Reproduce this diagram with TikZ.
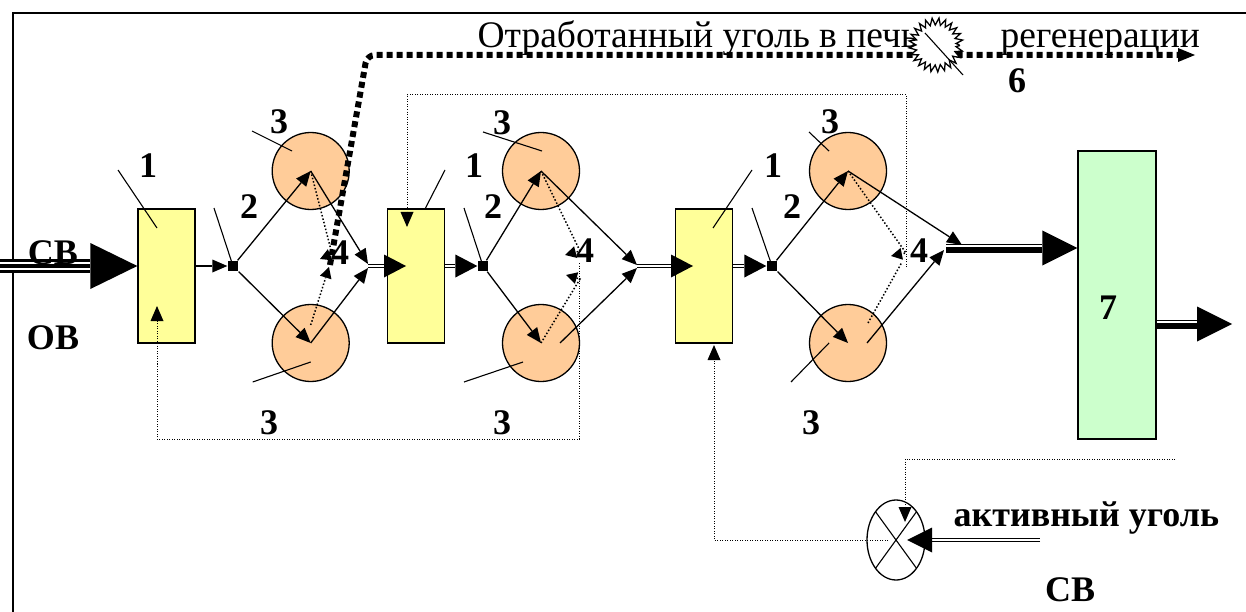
\documentclass[tikz,border=0pt]{standalone}
\usepackage{fontspec}
\setmainfont{Liberation Serif}
\usetikzlibrary{arrows.meta,calc,shapes.geometric,decorations.pathmorphing}
\definecolor{mixfill}{RGB}{255,255,153}
\definecolor{reacfill}{RGB}{255,204,153}
\definecolor{sepfill}{RGB}{204,255,204}
\tikzset{
  every picture/.style={line width=1.3pt},
  tag/.style={font=\fontsize{36}{40}\selectfont\bfseries, inner sep=0pt},
  title/.style={font=\fontsize{37.5}{40}\selectfont, inner sep=0pt, anchor=base west},
  mixer/.style={draw, fill=mixfill, minimum width=57pt, minimum height=134pt, inner sep=0pt},
  reactor/.style={draw, circle, fill=reacfill, minimum size=77pt, inner sep=0pt},
  sepbox/.style={draw, fill=sepfill, minimum width=78pt, minimum height=288pt, inner sep=0pt},
  splitter/.style={fill=black, minimum size=10pt, inner sep=0pt},
  valvebox/.style={draw, ellipse, fill=white, minimum width=58pt, minimum height=80pt, inner sep=0pt},
  furnace/.style={draw, fill=white, circle, minimum size=47pt, inner sep=0pt, decorate, decoration={zigzag, segment length=6pt, amplitude=3.5pt}},
  leader/.style={line width=1.1pt},
  flow/.style={-{Triangle[length=15pt,width=13pt,line width=0pt]}, line width=1.3pt},
  dflow/.style={-{Triangle[length=22pt,width=23pt,line width=0pt]}, double, double distance=1.5pt, line width=1.3pt},
  heavy/.style={-{Triangle[length=35pt,width=35pt,line width=0pt]}, line width=9pt, postaction={draw=white, -, line width=1.5pt, shorten >=35pt, transform canvas={yshift=2pt}}},
  trip/.style={-{Triangle[length=47pt,width=46pt,line width=0pt]}, line width=14pt, postaction={draw=white, -, line width=8pt, shorten >=47pt}, postaction={draw=black, -, line width=4pt, shorten >=47pt}},
  recyc/.style={line width=1pt, dash pattern=on 1pt off 1.5pt},
  recycarr/.style={recyc, -{Triangle[length=15pt,width=13pt,line width=0pt]}},
  dotarr/.style={line width=1.5pt, dash pattern=on 1.5pt off 2pt, -{Triangle[length=11pt,width=12pt,line width=0pt]}},
  regen/.style={line width=6pt, dash pattern=on 6pt off 4pt, rounded corners=8pt, -{Triangle[length=17pt,width=14pt,line width=0pt]}},
}

\begin{document}
\begin{tikzpicture}[x=1pt, y=-1pt]
  \useasboundingbox (0,0) rectangle (1246,612);
  \draw[line width=1.6pt] (13,612) -- (13,13) -- (1246,13);
  % three adsorption stages: mixer, splitter, two reactors
  \foreach \i/\mx/\sx/\rx in {1/166.5/233/310.7,2/416/483/541,3/704/772/848} {
    \node[mixer] (mix\i) at (\mx,276) {};
    \node[reactor] (up\i) at (\rx,171) {};
    \node[reactor] (lo\i) at (\rx,343) {};
    \node[splitter] (sp\i) at (\sx,266) {};
    \draw[flow] (sp\i) -- (up\i.center);
    \draw[flow] (sp\i) -- (lo\i.center);
  }
  \node[sepbox] (t7) at (1117,295) {};
  \node[valvebox] (valve) at (896,540) {};
  \draw[leader] ($(valve)+(-20.5,-28.3)$) -- ($(valve)+(20.5,28.3)$);
  \draw[leader] ($(valve)+(20.5,-28.3)$) -- ($(valve)+(-20.5,28.3)$);
  \foreach \n/\ax/\ay/\bx/\by in {mix1/-9.5/-48/-39/-58, mix2/9/-67/20/-39, mix3/9/-48/39/-58, sp1/0/0/-19/-58, sp2/0/0/-19/-58, sp3/0/0/-20/-58, up1/-18.7/-20/-40/-20, lo1/0/19/-58/20, up2/1/-20/-59/-19, lo2/-18/19/-59/20, up3/-19/-20/-20/-19, lo3/-19/0/-38/39}
    \draw[leader] (\n.center) ++(\ax,\ay) -- ++(\bx,\by);
  \coordinate (m1) at (368,266);
  \coordinate (m2) at (637,266);
  \coordinate (m3) at (946,248);
  \draw[flow] (up1.center) -- ($(m1)+(0,-2)$);
  \draw[flow] (lo1.center) -- ($(m1)+(0,2)$);
  \draw[flow] (up2.center) -- ($(m2)+(0,-1)$);
  \draw[flow] ($(lo2)+(19,0)$) -- ($(m2)+(0,2)$);
  \draw[flow] (up3.center) -- ($(m3)+(16,-3)$);
  \draw[flow] ($(lo3)+(19,0)$) -- ($(m3)+(-2,2)$);
  \coordinate (in2) at (406,266);
  \coordinate (in3) at (693,266);
  \draw[flow] (mix1.east |- sp1) -- (sp1);
  \draw[dflow] (m1) -- (in2);
  \draw[dflow] (mix2.east |- sp2) -- (sp2.west);
  \draw[dflow] (m2) -- (in3);
  \draw[dflow] (mix3.east |- sp3) -- (sp3.west);
  \draw[heavy] (m3) -- (t7.west |- m3);
  \coordinate (o7) at (1232,324);
  \draw[heavy] (t7.east |- o7) -- (o7);
  \coordinate (cvin) at (0,266);
  \draw[trip] (cvin) -- (mix1.west |- sp1);
  % dotted returns
  \draw[dotarr] (up1.center) -- (332,254) -- (320,259);
  \draw[dotarr] ($(lo1)+(0,-18)$) -- (329,267);
  \draw[dotarr] (up2.center) -- (580,251) -- (565,255);
  \draw[dotarr] (lo2.center) -- (580,279) -- (566,275);
  \draw[dotarr] (up3.center) -- (906,253) -- (891,256);
  \draw[dotarr, -] ($(lo3)+(20,-20)$) -- (902,262);
  \coordinate (r2) at (579,263);
  \coordinate (fa) at (157,306);
  \draw[recycarr] (r2) |- (157,439) -- (fa);
  \coordinate (r3) at (906,267);
  \coordinate (fb) at (407,227);
  \draw[recycarr] (r3) |- (407,95) -- (fb);
  \coordinate (r7) at (1175,459);
  \coordinate (fc) at (905,522);
  \draw[recycarr] (r7) -| (fc);
  \coordinate (fd) at (714,345);
  \draw[recycarr] ($(valve)+(-8,0)$) -| (fd);
  \coordinate (ak) at (1040,540);
  \draw[dflow, -{Triangle[length=25pt,width=25pt,line width=0pt]}] (ak) -- ($(valve)+(11,0)$);
  % spent carbon to the furnace
  \coordinate (rg0) at (330,265);
  \coordinate (rg1) at (1195,55);
  \draw[regen] (rg0) -- (367,55) -- (rg1);
  \node[title] (otr) at (477,48) {Отработанный уголь в печь};
  \node[title] (reg) at (1000,48) {регенерации};
  \node[furnace] (pech) at (936,45) {};
  \draw[leader] (pech.center) ++(-11,-12) -- ++(38,42);
  \foreach \t/\x/\y [count=\k] in {1/148/166, 1/474/166, 1/773/166, 2/249/207, 2/493/207, 2/792/207, 3/279/122, 3/502/123, 3/830/122, 3/269/423, 3/502/423, 3/811/423, 4/340/253, 4/585/251, 4/919/251, 6/1017/81, 7/1108/308}
    \node[tag] (lbl\k) at (\x,\y) {\t};
  \node[tag] (cv1) at (53,253) {СВ};
  \node[tag] (ov) at (53,338) {ОВ};
  \node[tag, anchor=base west] (akt) at (953,526) {активный уголь};
  \node[tag] (cv2) at (1070,590) {СВ};
\end{tikzpicture}
\end{document}
